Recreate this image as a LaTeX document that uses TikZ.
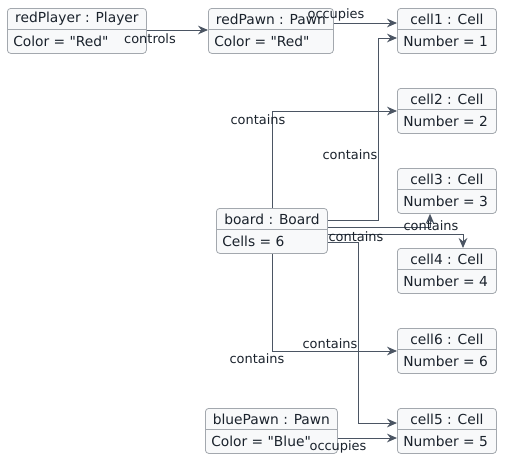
\documentclass[tikz,border=0pt]{standalone}
\usepackage{fontspec}
\setmainfont{DejaVu Sans}[Ligatures=TeXOff]
\usetikzlibrary{arrows.meta,calc}
\definecolor{boxfill}{HTML}{F8F9FA}
\definecolor{boxline}{HTML}{A3A8AE}
\definecolor{edgecol}{HTML}{4B5563}
\definecolor{txtcol}{HTML}{1A222C}
\tikzset{
  objbox/.style={draw=boxline, fill=boxfill, rounded corners=2.5pt, line width=0.6pt, inner sep=0pt, anchor=north west},
  divider/.style={draw=boxline, line width=0.6pt},
  titletext/.style={font=\fontsize{10.35pt}{12pt}\selectfont, text=txtcol, inner sep=0pt},
  attrtext/.style={font=\fontsize{10.35pt}{12pt}\selectfont, text=txtcol, inner sep=0pt, anchor=west},
  edge/.style={draw=edgecol, line width=0.75pt, -{Stealth[length=7.5pt, width=6.5pt, inset=2.5pt]}},
  elabel/.style={font=\fontsize{9.7pt}{11pt}\selectfont, text=txtcol, inner sep=0pt}
}
% name, left, top, right, title, attribute
\newcommand\objnode[6]{%
  \node[objbox, minimum width={(#4-#2)*0.75pt}, minimum height={45*0.75pt}] (#1) at (#2,#3) {};
  \draw[divider] ($(#1.north west)+(0,21)$) -- ($(#1.north east)+(0,21)$);
  \node[titletext] (#1-t) at ($(#1.north)+(0,11)$) {#5};
  \node[attrtext] (#1-a) at ($(#1.north west)+(6,33)$) {#6};
}
\begin{document}
\begin{tikzpicture}[x=0.75pt,y=-0.75pt]
\useasboundingbox (0,0) rectangle (509,469);
\objnode{redPlayer}{7}{8}{146}{redPlayer : Player}{Color = "Red"}
\objnode{redPawn}{208}{8}{333}{redPawn : Pawn}{Color = "Red"}
\objnode{cellA}{397}{8}{496}{cell1 : Cell}{Number = 1}
\objnode{cellB}{397}{88}{496}{cell2 : Cell}{Number = 2}
\objnode{cellC}{397}{168}{496}{cell3 : Cell}{Number = 3}
\objnode{board}{216}{208}{327}{board : Board}{Cells = 6}
\objnode{cellD}{397}{248}{496}{cell4 : Cell}{Number = 4}
\objnode{cellF}{397}{328}{496}{cell6 : Cell}{Number = 6}
\objnode{bluePawn}{205}{408}{337}{bluePawn : Pawn}{Color = "Blue"}
\objnode{cellE}{397}{408}{496}{cell5 : Cell}{Number = 5}

% controls
\draw[edge] (redPlayer.east |- 0,30) -- (redPawn.west |- 0,30);
\node[elabel] at (150,39) {controls};
% occupies (red)
\draw[edge] (redPawn.east |- 0,23) -- (cellA.west |- 0,23);
\node[elabel] at (336,15) {occupies};
% board -> cell1
\draw[edge] (board.east |- 0,220) -- (378,220) -- (378,38) -- (cellA.west |- 0,38);
\node[elabel] at (350,155) {contains};
% board -> cell2
\draw[edge] (board.north -| 272,0) -- (272,111) -- (cellB.west |- 0,111);
\node[elabel] at (258,120) {contains};
% board -> cell3
\draw[edge] (board.east |- 0,227) -- (430,227) -- (cellC.south -| 430,0);
\node[elabel] at (431,226) {contains};
% board -> cell4
\draw[edge] (board.east |- 0,234) -- (463,234) -- (cellD.north -| 463,0);
\node[elabel] at (356,237) {contains};
% board -> cell5
\draw[edge] (board.east |- 0,242) -- (358,242) -- (358,423) -- (cellE.west |- 0,423);
% board -> cell6
\draw[edge] (board.south -| 272,0) -- (272,351) -- (cellF.west |- 0,351);
\node[elabel] at (330,344) {contains};
\node[elabel] at (257,359) {contains};
% occupies (blue)
\draw[edge] (bluePawn.east |- 0,438) -- (cellE.west |- 0,438);
\node[elabel] at (338,447) {occupies};
\end{tikzpicture}
\end{document}
